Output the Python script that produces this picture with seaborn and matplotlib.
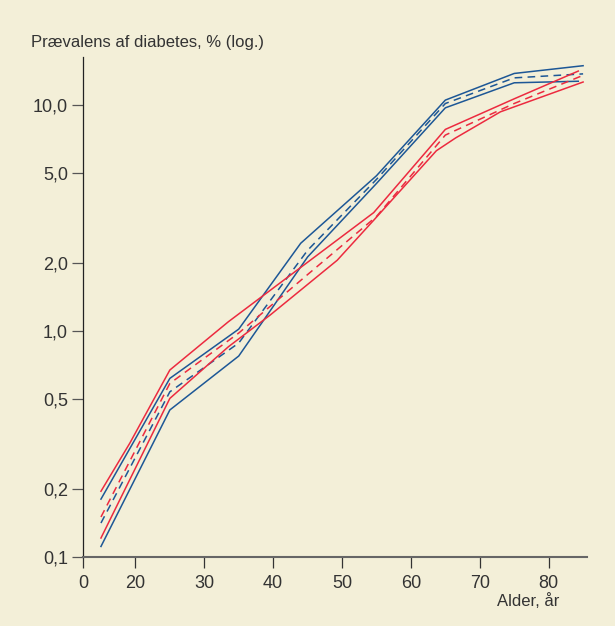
import matplotlib
matplotlib.use("Agg")
import matplotlib.pyplot as plt
import numpy as np
import pandas as pd
import seaborn as sns

# DATA
blue_upper_x = [15, 25, 35, 44, 55, 65, 75, 85]
blue_upper_y = [0.18, 0.617, 1.02, 2.45, 4.88, 10.56, 13.86, 15.0]
blue_est_x = [15, 25, 35, 45, 55, 65, 75, 85]
blue_est_y = [0.141, 0.538, 0.885, 2.28, 4.7, 10.2, 13.25, 13.8]
blue_lower_x = [15, 25, 35, 45, 55, 65, 75, 84.3]
blue_lower_y = [0.111, 0.447, 0.775, 2.13, 4.51, 9.76, 12.6, 12.8]

red_upper_x = [15, 19.2, 25, 33.5, 54.6, 65, 75, 84.3]
red_upper_y = [0.195, 0.319, 0.672, 1.10, 3.35, 7.83, 10.7, 14.2]
red_est_x = [15, 25, 35, 45, 55, 65, 75, 85]
red_est_y = [0.150, 0.586, 0.98, 1.78, 3.22, 7.39, 10.2, 13.6]
red_lower_x = [15, 25, 33.5, 39.6, 49.3, 54.6, 63.7, 66.5, 73, 85]
red_lower_y = [0.121, 0.503, 0.852, 1.18, 2.06, 3.10, 6.3, 7.18, 9.37, 12.7]

y_ticks = [0.1, 0.2, 0.5, 1, 2, 5, 10]
y_labels = ["0,1", "0,2", "0,5", "1,0", "2,0", "5,0", "10,0"]
x_ticks = [20, 30, 40, 50, 60, 70, 80]

# LONG TABLE
parts = []
for koen, kurve, xs, ys in [
    ("blue", "upper", blue_upper_x, blue_upper_y),
    ("blue", "est", blue_est_x, blue_est_y),
    ("blue", "lower", blue_lower_x, blue_lower_y),
    ("red", "upper", red_upper_x, red_upper_y),
    ("red", "est", red_est_x, red_est_y),
    ("red", "lower", red_lower_x, red_lower_y),
]:
    parts.append(pd.DataFrame({"alder": xs, "prev": ys, "koen": koen, "kurve": kurve}))
df = pd.concat(parts, ignore_index=True)

bg = "#f3efd8"
plt.rcParams["font.family"] = ["Liberation Sans", "DejaVu Sans"]

fig = plt.figure(figsize=(6.15, 6.26), dpi=100, facecolor=bg)
ax = fig.add_axes([0.1355, 0.1107, 0.8190, 0.7983])
ax.set_facecolor(bg)

sns.lineplot(
    data=df, ax=ax,
    x="alder", y="prev",
    hue="koen", style="kurve",
    palette={"blue": "#1d5796", "red": "#ec2a3f"},
    dashes={"upper": "", "est": (5, 3.5), "lower": ""},
    estimator=None, sort=False, legend=False,
    linewidth=1.1,
)

ax.set_yscale("log")
x0 = 12.44
ax.set_xlim(x0, 85.57)
ax.set_ylim(0.1, 16.4)

ax.set_xticks([x0] + x_ticks)
ax.set_xticklabels(["0"] + [str(t) for t in x_ticks])
ax.set_yticks(y_ticks)
ax.set_yticklabels(y_labels)
ax.yaxis.set_minor_locator(matplotlib.ticker.NullLocator())

for s in ["top", "right"]:
    ax.spines[s].set_visible(False)
ax.spines["left"].set_color("#222222")
ax.spines["left"].set_linewidth(0.9)
ax.spines["bottom"].set_color("#666666")
ax.spines["bottom"].set_linewidth(1.5)

ax.tick_params(axis="x", length=8, width=0.9, color="#333333", pad=5,
               labelsize=13, labelcolor="#333333")
ax.tick_params(axis="y", length=8, width=0.9, color="#555555", pad=3,
               labelsize=13, labelcolor="#333333")
ax.set_xlabel("")
ax.set_ylabel("")

fig.text(31 / 615, 1 - 43 / 626, "Prævalens af diabetes, % (log.)",
         fontsize=12, color="#333333", va="center", ha="left")
fig.text(559 / 615, 1 - 601 / 626, "Alder, år",
         fontsize=12, color="#333333", va="center", ha="right")

plt.savefig("out.png", dpi=100, facecolor=bg)
